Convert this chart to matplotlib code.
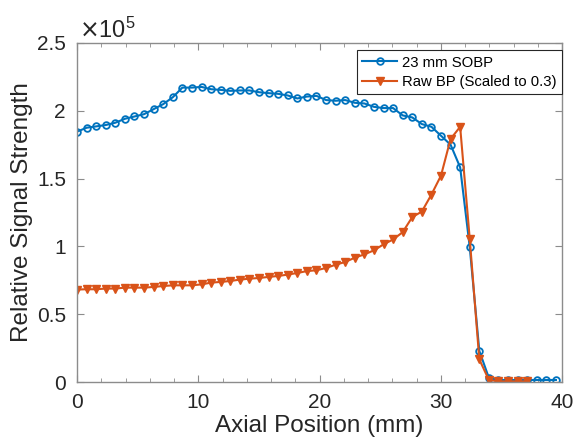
import matplotlib
matplotlib.use('Agg')
import matplotlib.pyplot as plt
import numpy as np
from matplotlib.ticker import MultipleLocator, FuncFormatter

plt.rcParams['font.family'] = ['Liberation Sans', 'DejaVu Sans']

# sampling grid (mm), 0.79 mm step
axial = np.round(np.arange(51) * 0.79, 2)

# signal values in units of 1e5
sobp = [1.846, 1.875, 1.885, 1.895, 1.912, 1.941, 1.958, 1.975, 2.012, 2.049,
        2.100, 2.171, 2.171, 2.176, 2.159, 2.154, 2.147, 2.150, 2.150, 2.137,
        2.130, 2.125, 2.113, 2.091, 2.105, 2.110, 2.079, 2.074, 2.079, 2.059,
        2.054, 2.029, 2.020, 2.020, 1.966, 1.951, 1.902, 1.882, 1.816, 1.750,
        1.583, 0.995, 0.230, 0.030, 0.015, 0.015, 0.015, 0.015, 0.015, 0.015,
        0.015]
raw_bp = [0.682, 0.684, 0.684, 0.689, 0.689, 0.696, 0.696, 0.696, 0.701, 0.708,
          0.713, 0.713, 0.713, 0.720, 0.733, 0.738, 0.745, 0.755, 0.762, 0.767,
          0.775, 0.782, 0.792, 0.804, 0.818, 0.824, 0.841, 0.865, 0.885, 0.917,
          0.941, 0.971, 1.015, 1.051, 1.105, 1.216, 1.257, 1.382, 1.522, 1.792,
          1.882, 1.056, 0.167, 0.015, 0.005, 0.005, 0.005, 0.005]

blue = '#0072BD'
orange = '#D95319'
txt = '#262626'
spine = '#8c8c8c'

fig = plt.figure(figsize=(5.76, 4.44), dpi=100)
ax = fig.add_axes([0.1337, 0.1396, 0.842, 0.7636])

ax.plot(axial, sobp, '-o', color=blue, lw=1.5, ms=4.8, mfc='none', mew=1.3,
        label='23 mm SOBP')
ax.plot(axial[:len(raw_bp)], raw_bp, '-v', color=orange, lw=1.5, ms=5.2,
        mfc=orange, mec=orange, label='Raw BP (Scaled to 0.3)')

ax.set_xlim(0, 40)
ax.set_ylim(0, 2.5)
ax.xaxis.set_major_locator(MultipleLocator(10))
ax.xaxis.set_minor_locator(MultipleLocator(2))
ax.yaxis.set_major_locator(MultipleLocator(0.5))
ax.yaxis.set_major_formatter(FuncFormatter(lambda v, p: '%g' % v))

ax.tick_params(which='both', direction='in', top=True, right=True,
               color=spine, labelcolor=txt, labelsize=15)
ax.tick_params(which='major', length=5)
ax.tick_params(which='minor', length=3)
ax.tick_params(axis='y', pad=8)
ax.tick_params(axis='x', pad=8)
for s in ax.spines.values():
    s.set_color(spine)
    s.set_linewidth(1.0)

ax.text(0.004, 1.016, r'$\times\mathdefault{10^{5}}$', transform=ax.transAxes,
        fontsize=17, color=txt, ha='left', va='baseline')

ax.set_xlabel('Axial Position (mm)', fontsize=17.5, color=txt, labelpad=2)
ax.set_ylabel('Relative Signal Strength', fontsize=17.5, color=txt, labelpad=3)

leg = ax.legend(loc='upper right', bbox_to_anchor=(1.0, 0.979),
                borderaxespad=0, fontsize=10.7, frameon=True, fancybox=False,
                edgecolor=txt, framealpha=1, handlelength=2.35,
                handletextpad=0.33, borderpad=0.37, labelspacing=0.35)
leg.get_frame().set_linewidth(0.8)
for t in leg.get_texts():
    t.set_color('black')

plt.savefig('out.png', dpi=100)
